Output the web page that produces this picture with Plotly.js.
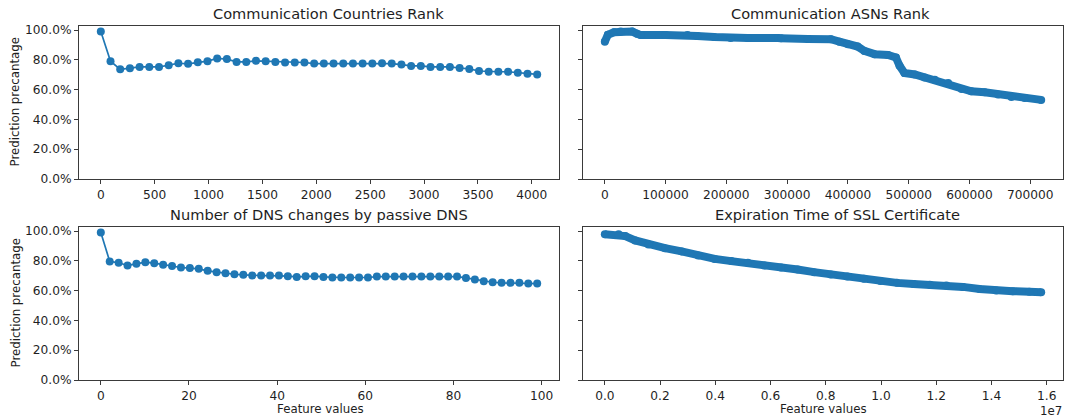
<!DOCTYPE html>
<html>
<head>
<meta charset="utf-8">
<script src="https://cdn.plot.ly/plotly-3.0.1.min.js"></script>
<style>
  html, body { margin: 0; padding: 0; background: #fff; }
  #chart { width: 1067px; height: 418px; }
</style>
</head>
<body>
<div id="chart"></div>
<script>
// ---------- Data ----------
const titles = [
  "Communication Countries Rank",
  "Communication ASNs Rank",
  "Number of DNS changes by passive DNS",
  "Expiration Time of SSL Certificate"
];
const yLabel = "Prediction precantage";
const xLabel = "Feature values";

// Panel 1: Communication Countries Rank
const countriesX = [0, 90, 180, 270, 360, 450, 540, 630, 720, 810, 900, 990, 1080, 1170, 1260, 1350,
  1440, 1530, 1620, 1710, 1800, 1890, 1980, 2070, 2160, 2250, 2340, 2430, 2520, 2610, 2700, 2790,
  2880, 2970, 3060, 3150, 3240, 3330, 3420, 3510, 3600, 3690, 3780, 3870, 3960, 4050];
const countriesY = [0.99, 0.791, 0.736, 0.743, 0.752, 0.752, 0.752, 0.764, 0.777, 0.773, 0.784, 0.791,
  0.809, 0.805, 0.786, 0.786, 0.793, 0.791, 0.786, 0.782, 0.782, 0.782, 0.775, 0.775, 0.775, 0.775,
  0.775, 0.775, 0.775, 0.777, 0.775, 0.768, 0.759, 0.759, 0.752, 0.752, 0.752, 0.745, 0.739, 0.725,
  0.720, 0.720, 0.720, 0.714, 0.707, 0.702];

// Panel 2: Communication ASNs Rank (dense, read along the band)
const asnX = [0, 5000, 15000, 26000, 45000, 53000, 59000, 100000, 136000, 152000, 180000, 207000,
  235000, 285000, 290000, 334000, 372000, 386000, 400000, 416000, 427000, 444000, 466000, 479000,
  485000, 493000, 510000, 526000, 543000, 565000, 587000, 603000, 625000, 647000, 669000, 691000, 718000];
const asnY = [0.922, 0.968, 0.985, 0.99, 0.99, 0.975, 0.967, 0.967, 0.967, 0.96, 0.953, 0.947,
  0.947, 0.947, 0.944, 0.94, 0.938, 0.922, 0.904, 0.889, 0.86, 0.838, 0.833, 0.816,
  0.76, 0.711, 0.702, 0.682, 0.667, 0.644, 0.604, 0.589, 0.582, 0.567, 0.551, 0.544, 0.531];

// Panel 3: Number of DNS changes by passive DNS
const dnsX = [0, 2.02, 4.04, 6.06, 8.08, 10.1, 12.12, 14.14, 16.16, 18.18, 20.2, 22.22, 24.24, 26.27,
  28.29, 30.31, 32.33, 34.35, 36.37, 38.39, 40.41, 42.43, 44.45, 46.47, 48.49, 50.51, 52.53, 54.55,
  56.57, 58.59, 60.61, 62.63, 64.65, 66.67, 68.69, 70.71, 72.73, 74.76, 76.78, 78.8, 80.82, 82.84,
  84.86, 86.88, 88.9, 90.92, 92.94, 94.96, 96.98, 99];
const dnsY = [0.99, 0.796, 0.787, 0.769, 0.78, 0.791, 0.784, 0.773, 0.766, 0.755, 0.751, 0.746,
  0.733, 0.724, 0.717, 0.71, 0.706, 0.701, 0.701, 0.701, 0.701, 0.697, 0.692, 0.697, 0.697, 0.692,
  0.688, 0.688, 0.688, 0.688, 0.688, 0.694, 0.694, 0.694, 0.694, 0.694, 0.694, 0.694, 0.694, 0.694,
  0.694, 0.685, 0.674, 0.663, 0.656, 0.652, 0.652, 0.652, 0.647, 0.647];

// Panel 4: Expiration Time of SSL Certificate (dense, read along the band)
const sslX = [0, 500000, 740000, 1100000, 1580000, 2180000, 2780000, 3380000, 3980000, 4580000,
  5180000, 5780000, 6380000, 6980000, 7580000, 8180000, 8780000, 9380000, 9980000, 10580000,
  11180000, 11770000, 12370000, 12970000, 13570000, 14170000, 14770000, 15370000, 15800000];
const sslY = [0.978, 0.978, 0.966, 0.937, 0.91, 0.885, 0.863, 0.836, 0.813, 0.798,
  0.787, 0.769, 0.755, 0.742, 0.724, 0.708, 0.694, 0.679, 0.665, 0.652,
  0.645, 0.64, 0.634, 0.625, 0.611, 0.60, 0.596, 0.593, 0.589];

// Tick values / labels
const yTicks = [0, 0.2, 0.4, 0.6, 0.8, 1.0];
const countriesTicks = [0, 500, 1000, 1500, 2000, 2500, 3000, 3500, 4000];
const asnTicks = [0, 100000, 200000, 300000, 400000, 500000, 600000, 700000];
const dnsTicks = [0, 20, 40, 60, 80, 100];
const sslTicks = [0, 2000000, 4000000, 6000000, 8000000, 10000000, 12000000, 14000000, 16000000];
const sslTickText = ["0.0", "0.2", "0.4", "0.6", "0.8", "1.0", "1.2", "1.4", "1.6"];
const sslExponent = "1e7";

// ---------- Styling ----------
const W = 1067, H = 418;
const blue = "#1f77b4";
const textColor = "#1e1e1e";
const font = "DejaVu Sans, sans-serif";
const px = v => v / W;
const py = v => 1 - v / H;

const sparse = { mode: "lines+markers", line: { color: blue, width: 1.7 }, marker: { color: blue, size: 8 } };
const dense  = { mode: "lines+markers", line: { color: blue, width: 8 }, marker: { color: blue, size: 8 } };

const traces = [
  Object.assign({ x: countriesX, y: countriesY, xaxis: "x", yaxis: "y" }, sparse),
  Object.assign({ x: asnX, y: asnY, xaxis: "x2", yaxis: "y2" }, dense),
  Object.assign({ x: dnsX, y: dnsY, xaxis: "x3", yaxis: "y3" }, sparse),
  Object.assign({ x: sslX, y: sslY, xaxis: "x4", yaxis: "y4" }, dense)
];

const axBase = {
  showline: true, mirror: true, linecolor: "#3a3a3a", linewidth: 1,
  ticks: "outside", ticklen: 4, tickwidth: 1, tickcolor: "#3a3a3a",
  showgrid: false, zeroline: false, tickmode: "array",
  tickfont: { family: font, size: 12.2, color: textColor }
};
const ax = o => Object.assign({}, axBase, o);

const leftDom = [px(79), px(559)];
const rightDom = [px(583), px(1063)];
const topDom = [py(179), py(26)];
const botDom = [py(380), py(227)];
const yRange = [0, 1.027];

const layout = {
  width: W, height: H,
  margin: { l: 0, r: 0, t: 0, b: 0 },
  paper_bgcolor: "#fff", plot_bgcolor: "#fff",
  showlegend: false,
  font: { family: font, color: textColor },
  xaxis:  ax({ domain: leftDom,  anchor: "y",  range: [-202.5, 4252.5], tickvals: countriesTicks }),
  yaxis:  ax({ domain: topDom,   anchor: "x",  range: yRange, tickvals: yTicks, tickformat: ".1%" }),
  xaxis2: ax({ domain: rightDom, anchor: "y2", range: [-35900, 753900], tickvals: asnTicks, tickformat: "d" }),
  yaxis2: ax({ domain: topDom,   anchor: "x2", range: yRange, tickvals: yTicks, showticklabels: false }),
  xaxis3: ax({ domain: leftDom,  anchor: "y3", range: [-4.95, 103.95], tickvals: dnsTicks }),
  yaxis3: ax({ domain: botDom,   anchor: "x3", range: yRange, tickvals: yTicks, tickformat: ".1%" }),
  xaxis4: ax({ domain: rightDom, anchor: "y4", range: [-790000, 16590000], tickvals: sslTicks, ticktext: sslTickText }),
  yaxis4: ax({ domain: botDom,   anchor: "x4", range: yRange, tickvals: yTicks, showticklabels: false }),
  annotations: [
    { text: titles[0], x: px(328), y: py(14) },
    { text: titles[1], x: px(830), y: py(14) },
    { text: titles[2], x: px(319), y: py(215) },
    { text: titles[3], x: px(837), y: py(215) }
  ].map(a => Object.assign(a, {
    xref: "paper", yref: "paper", xanchor: "center", yanchor: "middle", showarrow: false,
    font: { family: font, size: 14.6, color: textColor }
  })).concat([
    { text: yLabel, x: px(15), y: py(102.5), textangle: -90 },
    { text: yLabel, x: px(15), y: py(303.5), textangle: -90 },
    { text: xLabel, x: px(320), y: py(409) },
    { text: xLabel, x: px(823), y: py(409) }
  ].map(a => Object.assign(a, {
    xref: "paper", yref: "paper", xanchor: "center", yanchor: "middle", showarrow: false,
    font: { family: font, size: 11.8, color: textColor }
  }))).concat([
    { text: sslExponent, x: px(1064), y: py(410.5), xref: "paper", yref: "paper",
      xanchor: "right", yanchor: "middle", showarrow: false,
      font: { family: font, size: 11.8, color: textColor } }
  ])
};

Plotly.newPlot("chart", traces, layout, { staticPlot: true, displayModeBar: false });
</script>
</body>
</html>
